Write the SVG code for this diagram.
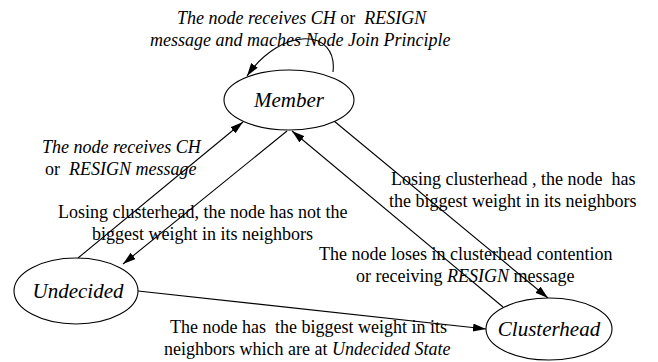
<svg xmlns="http://www.w3.org/2000/svg" width="658" height="362" viewBox="0 0 658 362">
<style>
text{font-family:"Liberation Serif","Times New Roman",serif;font-size:18px;fill:#000;white-space:pre}
.it{font-style:italic}
.node{font-size:21px;font-style:italic}
ellipse{fill:#fff;stroke:#000;stroke-width:1.1}
.e{fill:none;stroke:#000;stroke-width:1.1}
</style>
<defs>
<marker id="ah" markerUnits="userSpaceOnUse" markerWidth="14" markerHeight="10" refX="13" refY="4" orient="auto">
<path d="M0,0 L13,4 L0,8 Z" fill="#000"/>
</marker>
</defs>
<g id="connectors">
<path class="e" d="M333,72 C338,28 282,26 247,76" marker-end="url(#ah)"/>
<line class="e" x1="78" y1="258" x2="243" y2="122" marker-end="url(#ah)"/>
<line class="e" x1="287" y1="131" x2="123" y2="264" marker-end="url(#ah)"/>
<line class="e" x1="334" y1="121" x2="548" y2="298" marker-end="url(#ah)"/>
<line class="e" x1="503" y1="307" x2="292" y2="131" marker-end="url(#ah)"/>
<line class="e" x1="138" y1="291" x2="486" y2="329" marker-end="url(#ah)"/>
</g>
<g id="member">
<ellipse cx="289" cy="100" rx="65" ry="30"/>
<text class="node" x="289" y="107" text-anchor="middle">Member</text>
</g>
<g id="undecided">
<ellipse cx="76" cy="291" rx="62" ry="33"/>
<text class="node" x="78" y="298" text-anchor="middle">Undecided</text>
</g>
<g id="clusterhead">
<ellipse cx="549" cy="329" rx="63" ry="31"/>
<text class="node" x="549" y="336" text-anchor="middle">Clusterhead</text>
</g>
<g id="labels">
<text x="177" y="24"><tspan class="it">The node receives CH</tspan> or  <tspan class="it">RESIGN</tspan></text>
<text class="it" x="150" y="46">message and maches Node Join Principle</text>
<text class="it" x="42" y="153">The node receives CH</text>
<text x="45" y="175">or  <tspan class="it">RESIGN message</tspan></text>
<text x="58" y="218">Losing clusterhead, the node has not the</text>
<text x="92" y="240">biggest weight in its neighbors</text>
<text x="391" y="185">Losing clusterhead , the node  has</text>
<text x="389" y="207">the biggest weight in its neighbors</text>
<text x="319" y="260">The node loses in clusterhead contention</text>
<text x="356" y="282">or receiving <tspan class="it">RESIGN</tspan> message</text>
<text x="170" y="333">The node has  the biggest weight in its</text>
<text x="164" y="355">neighbors which are at <tspan class="it">Undecided State</tspan></text>
</g>
</svg>
